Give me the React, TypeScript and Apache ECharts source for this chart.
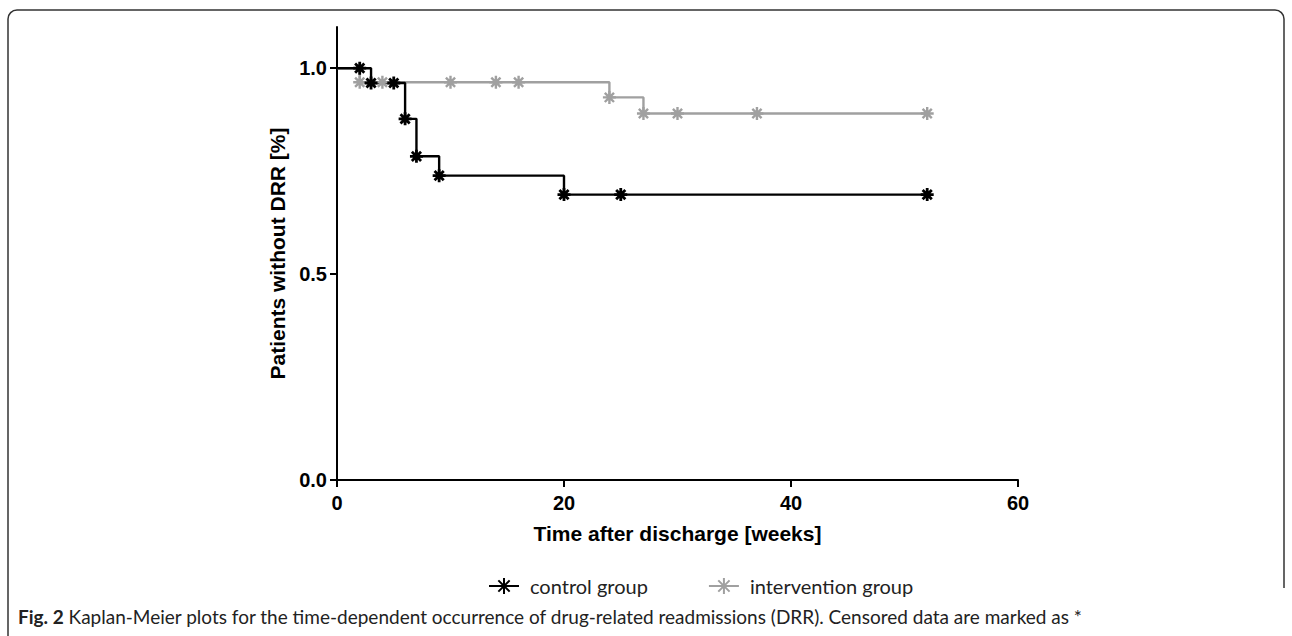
import React, { useEffect, useRef } from 'react';
import * as echarts from 'echarts';

const xTicks = [0, 20, 40, 60];
const yTicks = [0, 0.5, 1.0];

const controlTimes = [0, 2, 3, 5, 6, 7, 9, 20, 25, 52];
const controlSurvival = [1.0, 1.0, 0.964, 0.964, 0.877, 0.786, 0.739, 0.693, 0.693, 0.693];
const controlCensored = [false, true, true, true, true, true, true, true, true, true];

const interventionTimes = [0, 2, 4, 10, 14, 16, 24, 27, 30, 37, 52];
const interventionSurvival = [1.0, 0.966, 0.966, 0.966, 0.966, 0.966, 0.929, 0.89, 0.89, 0.89, 0.89];
const interventionCensored = [false, true, true, true, true, true, true, true, true, true, true];

const seriesNames = ['control group', 'intervention group'];
const captionBold = 'Fig. 2';
const captionText =
  ' Kaplan-Meier plots for the time-dependent occurrence of drug-related readmissions (DRR). Censored data are marked as *';

const STAR = 'path://M0,-10L0,10M-10,0L10,0M-7.07,-7.07L7.07,7.07M-7.07,7.07L7.07,-7.07';
const AXIS_FONT = "'Liberation Sans', Arial, sans-serif";
const TEXT_FONT = "Lato, 'Open Sans', sans-serif";

function buildData(times: number[], surv: number[], cens: boolean[]) {
  return times.map((t, i) =>
    cens[i] ? { value: [t, surv[i]] } : { value: [t, surv[i]], symbol: 'none' }
  );
}

export default function App() {
  const ref = useRef<HTMLDivElement>(null);
  useEffect(() => {
    document.body.style.margin = '0';
    const chart = echarts.init(ref.current!, null, { renderer: 'svg' });
    const tickStyle = {
      color: '#000',
      fontFamily: AXIS_FONT,
      fontWeight: 'bold' as const,
      fontSize: 20,
    };
    const nameStyle = { ...tickStyle, fontSize: 21 };
    chart.setOption({
      animation: false,
      backgroundColor: '#fff',
      grid: { left: 337, right: 274, top: 27, bottom: 156 },
      xAxis: {
        type: 'value',
        min: 0,
        max: 60,
        interval: 20,
        name: 'Time after discharge [weeks]',
        nameLocation: 'middle',
        nameGap: 43,
        nameTextStyle: nameStyle,
        axisLine: { show: true, lineStyle: { color: '#000', width: 2 } },
        axisTick: { show: true, length: 7, customValues: xTicks, lineStyle: { color: '#000', width: 2 } },
        axisLabel: { ...tickStyle, margin: 13, customValues: xTicks },
        splitLine: { show: false },
      },
      yAxis: {
        type: 'value',
        min: 0,
        max: 1.1,
        interval: 0.5,
        name: 'Patients without DRR [%]',
        nameLocation: 'middle',
        nameGap: 43,
        nameTextStyle: nameStyle,
        axisLine: { show: true, lineStyle: { color: '#000', width: 2 } },
        axisTick: { show: true, length: 7, customValues: yTicks, lineStyle: { color: '#000', width: 2 } },
        axisLabel: {
          ...tickStyle,
          margin: 10,
          customValues: yTicks,
          formatter: (v: number) => v.toFixed(1),
        },
        splitLine: { show: false },
      },
      legend: {
        data: seriesNames,
        left: 483,
        top: 571,
        itemWidth: 30,
        itemHeight: 20,
        itemGap: 60,
        textStyle: { fontFamily: TEXT_FONT, fontSize: 20, color: '#222', padding: [0, 0, 0, 6] },
      },
      series: [
        {
          name: seriesNames[1],
          type: 'line',
          step: 'end',
          data: buildData(interventionTimes, interventionSurvival, interventionCensored),
          symbol: STAR,
          symbolSize: 13,
          lineStyle: { color: '#a0a0a0', width: 2.4 },
          itemStyle: { color: '#a0a0a0', borderColor: '#a0a0a0', borderWidth: 2.4 },
        },
        {
          name: seriesNames[0],
          type: 'line',
          step: 'end',
          data: buildData(controlTimes, controlSurvival, controlCensored),
          symbol: STAR,
          symbolSize: 13,
          lineStyle: { color: '#000', width: 2.4 },
          itemStyle: { color: '#000', borderColor: '#000', borderWidth: 2.8 },
        },
      ],
      graphic: [
        {
          type: 'rect',
          silent: true,
          shape: { x: 8, y: 10, width: 1276, height: 660, r: 9 },
          style: { fill: 'none', stroke: '#333', lineWidth: 1.5 },
        },
        {
          type: 'rect',
          silent: true,
          shape: { x: 1276, y: 588, width: 16, height: 60 },
          style: { fill: '#fff', stroke: 'none' },
        },
        {
          type: 'text',
          left: 18,
          top: 607,
          style: {
            text: '{b|' + captionBold + '}' + captionText,
            rich: { b: { fontWeight: 'bold', fontSize: 19, fontFamily: TEXT_FONT, fill: '#222' } },
            fontSize: 19,
            fontFamily: TEXT_FONT,
            fill: '#222',
          },
        },
      ],
    });
    return () => chart.dispose();
  }, []);
  return <div ref={ref} style={{ width: 1292, height: 636 }} />;
}
